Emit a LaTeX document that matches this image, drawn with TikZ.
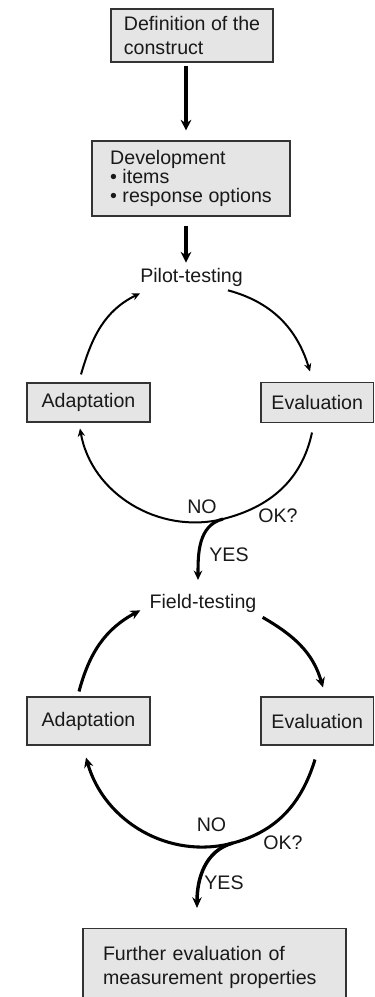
\documentclass[tikz,border=0pt]{standalone}
\usepackage{fontspec}
\setmainfont{Liberation Sans}
\usepackage{tikz}
\usetikzlibrary{arrows.meta}
\definecolor{boxgray}{RGB}{229,229,229}

\begin{document}
\begin{tikzpicture}[x=0.75pt,y=0.75pt,
  every node/.style={font=\fontsize{14.7}{17.3}\selectfont, text=black!90},
  box/.style={draw=black!80, line width=0.8pt, fill=boxgray, inner ysep=0pt},
  lbl/.style={inner sep=0pt},
  mainarrow/.style={line width=2.4pt, -{Stealth[length=8pt,width=8pt]}},
  cyclearrow/.style={line width=1.5pt, -{Stealth[length=6pt,width=5.5pt]}},
  cyclebold/.style={line width=2.3pt, -{Stealth[length=7.5pt,width=7pt]}},
  yesarrow/.style={line width=2.3pt, -{Stealth[length=7pt,width=6.5pt]}},
  yesbold/.style={line width=2.6pt, -{Stealth[length=8pt,width=7pt]}}]
  \useasboundingbox (0,0) rectangle (375,997);
  \clip (0,0) rectangle (375,997);

  % first steps
  \node[box, minimum width=121.5pt, minimum height=39.75pt, align=left] (def) at (192,961.5)
    {Definition of the\\construct};
  \node[box, minimum width=148.5pt, minimum height=56.25pt, align=left,
    font=\fontsize{14.7}{14.5}\selectfont] (dev) at (191,818.5)
    {Development\\\textbullet\ items\\\textbullet\ response options};
  \node[lbl, anchor=base] (pilot) at (191.5,714) {Pilot-testing};
  \draw[mainarrow] ([shift={(-6,-3)}]def.south) -- ([shift={(-5,10)}]dev.north);
  \draw[mainarrow] ([shift={(-5,-9)}]dev.south) -- ([shift={(-5.5,6)}]pilot.north);

  % pilot cycle
  \node[box, minimum width=92.25pt, minimum height=29.25pt] (adapt1) at (88.5,594.5) {Adaptation};
  \node[box, minimum width=84.4pt, minimum height=30pt] (eval1) at (317.25,594.5) {Evaluation};
  \coordinate (ok1) at (223,478);
  \node[lbl] (no1) at (202,490) {NO};
  \node[lbl] (q1) at (278,481) {OK?};
  \node[lbl] (yes1) at (229,442) {YES};
  \node[lbl, anchor=base] (field) at (203,388) {Field-testing};

  \draw[cyclearrow] ([shift={(-7.5,8)}]adapt1.north) to[out=74,in=206] ([shift={(0,-6)}]pilot.south west);
  \draw[cyclearrow] ([shift={(-15,-3)}]pilot.south east) to[out=-15,in=107] ([shift={(-7.25,10.5)}]eval1.north);
  \draw[cyclearrow,-] ([shift={(-5.25,-9.5)}]eval1.south) to[out=-102,in=14] (ok1);
  \draw[cyclearrow] (ok1) to[out=194,in=-80] ([shift={(-8.5,-6)}]adapt1.south);
  \draw[yesarrow] (ok1) to[out=194,in=90] ([shift={(-5,14.6)}]field.north);

  % field cycle
  \node[box, minimum width=92.25pt, minimum height=36pt] (adapt2) at (88.5,276) {Adaptation};
  \node[box, minimum width=84.4pt, minimum height=36pt] (eval2) at (317.25,276) {Evaluation};
  \coordinate (ok2) at (233,154);
  \node[lbl] (no2) at (211.5,172) {NO};
  \node[lbl] (q2) at (283,154) {OK?};
  \node[lbl] (yes2) at (224,114) {YES};
  \node[box, anchor=north, text width=167.25pt, inner xsep=15pt, inner ysep=13.2pt, align=left,
    font=\fontsize{14.7}{18}\selectfont] (final) at (214.5,69)
    {Further evaluation of\\measurement properties};

  \draw[cyclebold] ([shift={(-9.5,5)}]adapt2.north) to[out=75,in=208] ([shift={(-9,3)}]field.south west);
  \draw[cyclebold] ([shift={(6,-4)}]field.south east) to[out=-30,in=106] ([shift={(5.75,9)}]eval2.north);
  \draw[cyclebold,-] ([shift={(-2.25,-14)}]eval2.south) to[out=-107,in=15] (ok2);
  \draw[cyclebold] (ok2) to[out=195,in=-74] ([shift={(-2.5,-12)}]adapt2.south);
  \draw[yesbold] (ok2) to[out=195,in=90] ([shift={(-17.5,20)}]final.north);
\end{tikzpicture}
\end{document}
